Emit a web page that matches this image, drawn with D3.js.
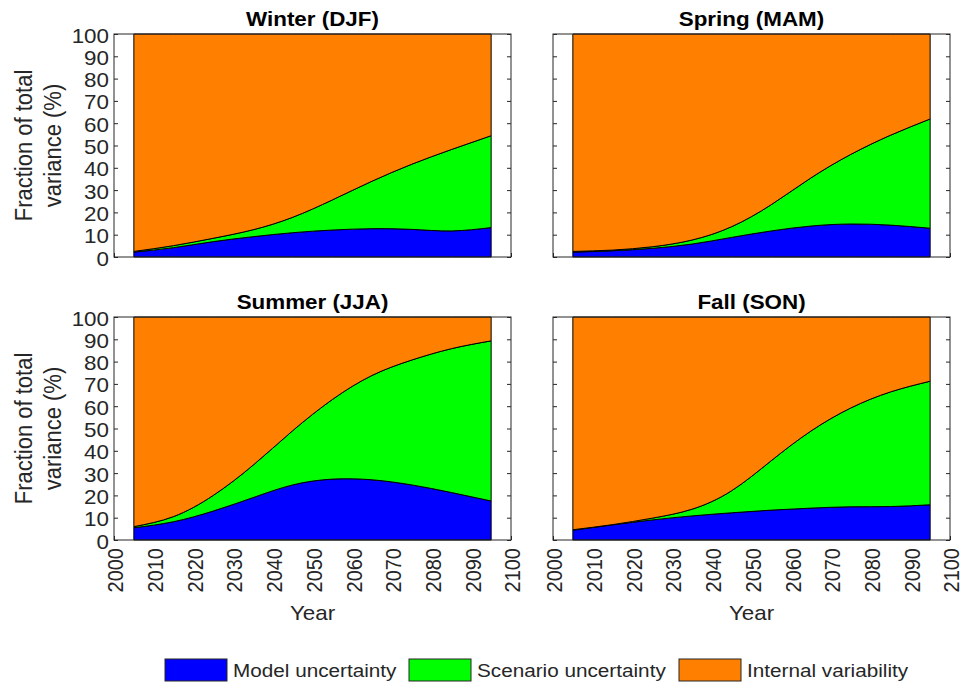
<!DOCTYPE html>
<meta charset="utf-8">
<style>
body { margin: 0; background: #fff; }
text { font-family: "Liberation Sans", Arial, Helvetica, sans-serif; fill: #262626; }
.title { font-weight: bold; fill: #000; }
.tick line { stroke: #262626; }
</style>
<svg width="971" height="686"></svg>
<script src="https://d3js.org/d3.v7.min.js"></script>
<script>

// values (percent of total variance)
var years = [2005, 2015, 2025, 2035, 2045, 2055, 2065, 2075, 2085, 2095];
var seasons = ["Winter (DJF)", "Spring (MAM)", "Summer (JJA)", "Fall (SON)"];

var modelDJF    = [2.2, 4.2, 6.9, 9.1, 10.9, 12.1, 12.7, 12.4, 11.7, 13.2];
var scenarioDJF = [0.3, 0.9, 1.5, 3.1, 6.9, 13.5, 21.3, 29.2, 36.5, 41.2];

var modelMAM    = [2.2, 2.8, 3.9, 5.8, 8.8, 11.7, 13.9, 14.8, 14.3, 12.9];
var scenarioMAM = [0.3, 0.3, 0.7, 1.8, 4.8, 11.8, 21.6, 31.2, 40.3, 49.0];

var modelJJA    = [5.5, 8.2, 13.0, 19.0, 24.7, 27.3, 27.0, 24.7, 21.3, 17.5];
var scenarioJJA = [0.5, 2.3, 7.0, 14.5, 24.3, 35.7, 46.8, 56.0, 64.5, 71.8];

var modelSON    = [4.4, 6.8, 9.0, 10.8, 12.2, 13.4, 14.3, 14.9, 15.0, 15.8];
var scenarioSON = [0.2, 0.1, 0.8, 3.0, 9.9, 22.2, 34.6, 44.3, 51.4, 55.4];

var categories = ["Model uncertainty", "Scenario uncertainty", "Internal variability"];
var colors = ["#0000ff", "#00ff00", "#ff8000"];

var yTicks = d3.range(0, 101, 10);
var xTicks = d3.range(2000, 2101, 10);

var model = [modelDJF, modelMAM, modelJJA, modelSON];
var scenario = [scenarioDJF, scenarioMAM, scenarioJJA, scenarioSON];

var svg = d3.select("svg");
var SX = 1.12; // the reference text is a little wide

function place(sel, x, y, rot) {
  sel.attr("transform", "translate(" + x + "," + y + ") scale(" + SX + ",1)" + (rot ? " rotate(" + rot + ")" : ""));
}

var colX = [114, 553], rowY = [34, 317];
var pw = 397, ph = 223;

var x = d3.scaleLinear().domain([2000, 2100]).range([0, pw]);
var y = d3.scaleLinear().domain([0, 100]).range([ph, 0]);

var stack = d3.stack().keys(["model", "scenario", "internal"]);
var area = d3.area()
    .x(function(d) { return x(d.data.year); })
    .y0(function(d) { return y(d[0]); })
    .y1(function(d) { return y(d[1]); })
    .curve(d3.curveNatural);

seasons.forEach(function(name, i) {
  var col = i % 2, row = Math.floor(i / 2);
  var g = svg.append("g").attr("transform", "translate(" + colX[col] + "," + rowY[row] + ")");

  var rows = years.map(function(yr, j) {
    return { year: yr, model: model[i][j], scenario: scenario[i][j],
             internal: 100 - model[i][j] - scenario[i][j] };
  });

  // axes first so the fills sit over the hidden ticks
  var yl = g.append("g").call(d3.axisLeft(y).tickValues(yTicks).tickSize(-4).tickPadding(0)
      .tickFormat(col === 0 ? d3.format("d") : function() { return ""; }));
  yl.select(".domain").remove();
  yl.selectAll("text").attr("x", 0).attr("dy", "0.35em").style("font-size", "20px")
      .call(place, -5, 1);

  var yr = g.append("g").attr("transform", "translate(" + pw + ",0)")
      .call(d3.axisRight(y).tickValues(yTicks).tickSize(-4).tickFormat(""));
  yr.select(".domain").remove();

  var xb = g.append("g").attr("transform", "translate(0," + ph + ")")
      .call(d3.axisBottom(x).tickValues(xTicks).tickSize(-4)
        .tickFormat(row === 1 ? d3.format("d") : function() { return ""; }));
  xb.select(".domain").remove();
  xb.selectAll("text").attr("x", 0).attr("y", 0).attr("dy", "0.35em")
      .attr("text-anchor", "end").style("font-size", "20px")
      .call(place, 1, 8, -90);

  g.selectAll("path.layer")
    .data(stack(rows))
    .join("path")
      .attr("class", "layer")
      .attr("d", area)
      .attr("fill", function(d, k) { return colors[k]; })
      .attr("stroke", "#000")
      .attr("stroke-width", 1);

  g.append("rect")
      .attr("width", pw).attr("height", ph)
      .attr("fill", "none").attr("stroke", "#262626").attr("stroke-width", 1);

  g.append("text").attr("class", "title")
      .attr("text-anchor", "middle").style("font-size", "20px")
      .text(name)
      .call(place, pw / 2, -8);

  if (col === 0) {
    var lab = g.append("text").attr("text-anchor", "middle").style("font-size", "22px")
        .call(place, -82, ph / 2, -90);
    lab.append("tspan").attr("x", 0).attr("y", 0).text("Fraction of total");
    lab.append("tspan").attr("x", 0).attr("y", 26).text("variance (%)");
  }
  if (row === 1) {
    g.append("text").attr("text-anchor", "middle").style("font-size", "20px")
        .text("Year")
        .call(place, pw / 2, ph + 80);
  }
});

// legend
var legX = [165, 409, 679];
var leg = svg.append("g").selectAll("g")
  .data(categories)
  .join("g")
    .attr("transform", function(d, k) { return "translate(" + legX[k] + ",659)"; });
leg.append("rect")
    .attr("width", 62).attr("height", 22)
    .attr("fill", function(d, k) { return colors[k]; })
    .attr("stroke", "#262626");
leg.append("text")
    .style("font-size", "18.5px")
    .text(function(d) { return d; })
    .call(place, 68, 18);

</script>
